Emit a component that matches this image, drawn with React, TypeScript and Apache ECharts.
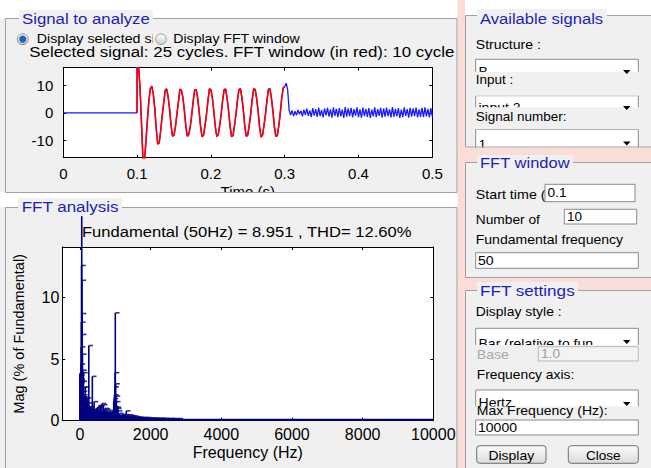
import React, { useEffect, useRef } from "react";
import * as echarts from "echarts";

// ---------- DATA ----------
const timeTicks = [0, 0.1, 0.2, 0.3, 0.4, 0.5];
const signalTicks = [-10, 0, 10];
const freqTicks = [0, 2000, 4000, 6000, 8000, 10000];
const magTicks = [0, 5, 10];

const preTime = [0, 0.0999];
const preSignal = [0, 0];

const windowStart = 0.1;
const windowStep = 0.002;
const windowSignal = [
  17.5, 17.0, 9.0, -4.0, -17.5, -17.5, -10.5, -2.5, 4.5, 9.0,
  9.8, 6.8, 1.5, -6.0, -11.5, -11.0, -6.5, -1.0, 3.5, 8.2,
  8.8, 6.0, 1.5, -4.5, -8.6, -8.2, -5.0, -0.5, 4.0, 8.7,
  8.3, 5.8, 1.0, -4.8, -8.6, -8.0, -5.2, -0.8, 4.2, 8.4,
  8.6, 5.5, 0.8, -5.0, -8.8, -8.2, -4.8, -0.6, 4.5, 8.8,
  8.5, 5.5, 0.5, -5.2, -8.7, -8.0, -4.5, -0.3, 4.8, 8.6,
  8.7, 5.2, 0.6, -5.0, -8.8, -8.3, -4.6, -0.5, 4.6, 8.5,
  8.9, 5.6, 0.8, -5.1, -8.7, -8.1, -4.4, -0.2, 4.9, 8.8,
  8.6, 5.3, 0.5, -5.3, -8.9, -8.2, -4.5, -0.4, 4.7, 8.7,
  8.8, 5.4, 0.7, -5.0, -8.6, -8.4, -4.7, -0.1, 5.5, 9.2,
  9.6,
];

const postStart = 0.302;
const postStep = 0.002;
const postSignal = [
  10.9, 8.5, 1.0, -0.8, 0.9, -1.2, 0.6, -0.9, 1.1, -0.5,
  0.8, -1.3, 1.2, -0.7, 1.5, -1.1, 0.9, -1.6, 1.7, -1.0,
  1.4, -1.5, 1.9, -1.2, 1.0, -1.7, 1.6, -0.9, 1.8, -1.4,
  1.3, -1.8, 2.0, -1.1, 1.5, -1.6, 1.7, -1.3, 1.2, -1.9,
  2.1, -1.4, 1.6, -1.2, 1.8, -1.7, 1.4, -1.0, 2.0, -1.6,
  1.3, -1.8, 1.9, -1.2, 1.5, -1.5, 1.7, -1.9, 1.2, -1.3,
  2.0, -1.6, 1.4, -1.1, 1.8, -1.8, 1.6, -1.4, 1.9, -1.2,
  1.3, -1.7, 2.1, -1.5, 1.5, -1.3, 1.7, -1.9, 1.2, -1.6,
  2.0, -1.1, 1.4, -1.8, 1.8, -1.4, 1.6, -1.2, 1.9, -1.7,
  1.3, -1.5, 1.8, -1.6, 2.0, -1.3, 1.5, -1.7, 1.7, -1.4,
];

const fftFreq = [
  0, 5, 10, 15, 20, 25, 30, 35, 40, 45, 50, 55, 60, 65, 70, 75, 80, 85, 90, 95,
  100, 105, 110, 120, 130, 140, 150, 160, 175, 190, 200, 215, 225, 240, 250, 265, 280, 300, 325, 350,
  370, 400, 430, 460, 500, 540, 580, 620, 660, 700, 740, 780, 820, 860, 900, 940, 955, 965, 975, 985,
  995, 1000, 1010, 1020, 1030, 1045, 1060, 1080, 1120, 1170, 1220, 1270, 1310, 1360, 1420, 1480, 1540, 1620, 1700, 1800,
  1900, 2000, 2100, 2200, 2320, 2450, 2580, 2700, 2800,
];
const fftMag = [
  3.8, 3.9, 3.7, 3.4, 3.1, 3.3, 4.6, 6.0, 8.0, 12.6, 16.6, 11.4, 8.7, 7.0, 5.4, 4.1, 3.2, 2.7, 2.4, 2.1,
  3.9, 1.95, 1.8, 1.6, 1.45, 1.3, 2.75, 1.2, 1.1, 1.0, 1.85, 1.1, 1.45, 1.0, 6.1, 1.0, 0.9, 1.15, 0.9, 3.6,
  0.9, 1.55, 0.8, 1.0, 1.1, 1.25, 1.2, 1.4, 1.3, 1.0, 0.95, 0.85, 0.75, 0.6, 0.55, 0.9, 1.55, 1.8, 2.1, 2.75,
  3.9, 8.76, 3.0, 2.0, 1.55, 1.1, 1.0, 0.8, 0.6, 0.5, 0.48, 0.5, 0.8, 0.47, 0.46, 0.4, 0.38, 0.32, 0.28, 0.27,
  0.26, 0.23, 0.22, 0.21, 0.22, 0.2, 0.19, 0.18, 0.17,
];

const floorFreq = [0, 55, 60, 200, 215, 940, 950, 1090, 1100, 1400, 2000, 2750, 2800, 10000];
const floorMag = [3.85, 3.85, 2.0, 1.9, 0.8, 0.7, 1.3, 1.2, 0.5, 0.4, 0.26, 0.19, 0.15, 0.15];

// ---------- STYLE ----------
const FONT = "Liberation Sans";
const GRAY = "#f0f0f0";
const PINK = "#f9ddd6";
const BORDER = "#a0a0a0";
const TITLE = "#1e1eb8";
const NAVY = "#000080";

let measureCtx: CanvasRenderingContext2D | null = null;
function measure(text: string, size: number): number {
  if (!measureCtx) measureCtx = document.createElement("canvas").getContext("2d");
  if (!measureCtx) return text.length * size * 0.5;
  measureCtx.font = `${size}px "${FONT}"`;
  return measureCtx.measureText(text).width;
}

function txt(text: string, x: number, y: number, size: number, o: any = {}) {
  let sx = o.sx ?? 1.08;
  if (o.w) {
    const m = measure(o.fit ?? text, size);
    if (m > 0) sx = Math.min(1.4, Math.max(0.8, o.w / m));
  }
  const style: any = {
    text, x: 0, y: 0, fontSize: size, fontFamily: FONT,
    fill: o.fill ?? "#000", align: o.align ?? "left", verticalAlign: "middle",
  };
  if (o.width) {
    style.width = o.width / sx;
    style.overflow = "truncate";
    style.ellipsis = "";
  }
  return { type: "text", x, y, z: o.z ?? -10, scaleX: sx, style };
}
function rect(x: number, y: number, w: number, h: number, fill: any, o: any = {}) {
  return {
    type: "rect", z: o.z ?? -10,
    shape: { x, y, width: w, height: h, r: o.r ?? 0 },
    style: { fill, stroke: o.stroke ?? null, lineWidth: o.lw ?? 1 },
  };
}
function frame(x: number, y: number, w: number, h: number, z = -10) {
  return { type: "rect", z, shape: { x, y, width: w, height: h }, style: { fill: null, stroke: BORDER, lineWidth: 1 } };
}
function hline(x1: number, x2: number, y: number, z = -10) {
  return { type: "line", z, shape: { x1, y1: y, x2, y2: y }, style: { stroke: BORDER, lineWidth: 1 } };
}
function arrow(y: number) {
  return { type: "polygon", z: -10, shape: { points: [[623, y], [630.5, y], [626.75, y + 4]] }, style: { fill: "#000" } };
}

function buildGraphic() {
  const g: any[] = [];
  // backgrounds
  g.push(rect(0, 0, 651, 468, "#ffffff"));
  g.push(rect(457.5, 0, 7.5, 468, PINK));
  g.push(rect(0, 18.5, 457.5, 174, GRAY));
  g.push(rect(0, 207, 457.5, 261, GRAY));
  g.push(rect(465, 15, 186, 132.5, GRAY));
  g.push(rect(465, 162, 186, 116, GRAY));
  g.push(rect(465, 290, 186, 178, GRAY));

  // panel 1 contents
  g.push(txt("Selected signal: 25 cycles. FFT window (in red): 10 cycles", 29.3, 51.7, 15, {
    w: 425.7, fit: "Selected signal: 25 cycles. FFT window (in red): 10 cycle", width: 428,
  }));
  g.push(rect(14, 32, 139, 14.3, GRAY));
  g.push(txt("Display selected signal", 36.7, 39, 13, { w: 115, fit: "Display selected s" }));
  g.push(rect(153, 32, 152, 14.3, GRAY));
  g.push(txt("Display FFT window", 173.3, 39, 13, { w: 126.7 }));
  g.push({
    type: "circle", z: -10, shape: { cx: 22.8, cy: 39.2, r: 5.4 },
    style: { fill: new echarts.graphic.LinearGradient(0, 0, 0, 1, [{ offset: 0, color: "#ffffff" }, { offset: 1, color: "#c8c8c8" }]), stroke: "#8a8a8a", lineWidth: 1 },
  });
  g.push({ type: "circle", z: -10, shape: { cx: 22.8, cy: 39.2, r: 3.6 }, style: { fill: "#1b64b8" } });
  g.push({
    type: "circle", z: -10, shape: { cx: 161, cy: 39.2, r: 5.3 },
    style: { fill: new echarts.graphic.LinearGradient(0, 0, 0, 1, [{ offset: 0, color: "#ffffff" }, { offset: 1, color: "#d0d0d0" }]), stroke: "#9a9a9a", lineWidth: 1 },
  });

  // panel 2 contents
  g.push(txt("Fundamental (50Hz) = 8.951 , THD= 12.60%", 246.7, 231.7, 15, { w: 330, align: "center" }));

  // right: Available signals
  const dd = (top: number, text: string, cy: number) => {
    g.push(rect(475.7, top, 162.6, 20, "#ffffff", { stroke: "#8a8a8a" }));
    g.push(txt(text, 478.5, cy, 13, {}));
  };
  dd(59.3, "B", 71.5);
  dd(95.7, "input 2", 107.5);
  dd(129.3, "1", 145);
  g.push(rect(468, 71.7, 183, 24, GRAY));
  g.push(rect(468, 107.3, 183, 22, GRAY));
  g.push(txt("Structure :", 475.7, 44.3, 13, { w: 65.3 }));
  g.push(txt("Input :", 475.7, 80, 13, { w: 37.6 }));
  g.push(txt("Signal number:", 475.7, 116.7, 13, { w: 91 }));
  g.push(arrow(70));
  g.push(arrow(106));
  g.push(arrow(141.5));

  // right: FFT window
  g.push(txt("Start time (s):", 475.7, 194.3, 13, { sx: 1.1 }));
  g.push(rect(545, 184.3, 90, 17.4, "#ffffff", { stroke: "#8a8a8a" }));
  g.push(txt("0.1", 547.5, 193, 13, { w: 19 }));
  g.push(txt("Number of", 475.7, 220, 13, { w: 64.3 }));
  g.push(rect(564.3, 209.3, 72.4, 14.7, "#ffffff", { stroke: "#8a8a8a" }));
  g.push(txt("10", 567, 216.7, 13, { w: 15 }));
  g.push(txt("Fundamental frequency", 475.7, 240, 13, { w: 147.6 }));
  g.push(rect(475.7, 252.7, 162.6, 15.6, "#ffffff", { stroke: "#8a8a8a" }));
  g.push(txt("50", 478, 260.5, 13, { w: 15.6 }));

  // right: FFT settings
  g.push(txt("Display style :", 475.7, 311.7, 13, { w: 86 }));
  dd(328.3, "Bar (relative to fun", 343.5);
  g.push(rect(468, 345, 183, 18, GRAY));
  g.push(txt("Base", 476.7, 355, 13, { w: 32.3, fill: "#a8a8a8" }));
  g.push(rect(538.3, 346.7, 100, 14.3, "#f3f3f3", { stroke: "#b8b8b8" }));
  g.push(txt("1.0", 541, 354, 13, { w: 19, fill: "#a0a0a0" }));
  g.push(txt("Frequency axis:", 476.7, 375, 13, { w: 97.6 }));
  dd(390, "Hertz", 403);
  g.push(rect(468, 406.5, 183, 13, GRAY));
  g.push(txt("Max Frequency (Hz):", 476.7, 411, 13, { w: 131 }));
  g.push(arrow(340));
  g.push(arrow(402));
  g.push(rect(475.7, 420, 162.6, 15, "#ffffff", { stroke: "#8a8a8a" }));
  g.push(txt("10000", 478, 427.7, 13, { w: 39 }));
  const btnFill = () => new echarts.graphic.LinearGradient(0, 0, 0, 1, [{ offset: 0, color: "#fbfbfb" }, { offset: 1, color: "#dadada" }]);
  g.push(rect(476.7, 445.7, 69.3, 17.6, btnFill(), { stroke: "#6f6f6f", r: 3 }));
  g.push(txt("Display", 511.3, 455.5, 13, { w: 45.7, align: "center" }));
  g.push(rect(568.3, 445.7, 70, 17.6, btnFill(), { stroke: "#6f6f6f", r: 3 }));
  g.push(txt("Close", 603.3, 455.5, 13, { w: 34.7, align: "center" }));

  // gaps & borders
  g.push(rect(457.5, 147.5, 193.5, 14.5, PINK));
  g.push(rect(457.5, 278, 193.5, 12, PINK));
  g.push(frame(5.5, 18.5, 451.5, 174));
  g.push(frame(5.5, 207.5, 451.5, 300));
  g.push(frame(465.5, 15.5, 200, 131.5));
  g.push(frame(465.5, 162.5, 200, 115));
  g.push(frame(465.5, 290.5, 200, 200));

  // titles
  g.push(rect(19, 10, 134, 18, GRAY));
  g.push(txt("Signal to analyze", 22, 18.5, 15, { w: 128, fill: TITLE }));
  g.push(rect(477, 9, 130, 18, GRAY));
  g.push(txt("Available signals", 480, 18.3, 15, { w: 123.3, fill: TITLE }));
  g.push(rect(477, 155, 96, 16, GRAY));
  g.push(txt("FFT window", 480, 162.3, 15, { w: 90, fill: TITLE }));
  g.push(rect(477, 282, 101, 17, GRAY));
  g.push(txt("FFT settings", 480, 290, 15, { w: 95, fill: TITLE }));

  // overlay (clips "Time (s)" at the panel border)
  g.push(rect(0, 192.8, 457.5, 14.2, "#ffffff", { z: 50 }));
  g.push(hline(5.5, 457, 192.5, 51));
  g.push(rect(18, 198, 104, 17, GRAY, { z: 51 }));
  g.push(txt("FFT analysis", 21.7, 206.7, 15, { w: 97.3, fill: TITLE, z: 52 }));
  return g;
}

function buildOption() {
  const blue: number[][] = [];
  preTime.forEach((t, i) => blue.push([t, preSignal[i]]));
  const win = windowSignal.map((v, i) => [+(windowStart + i * windowStep).toFixed(4), v]);
  const post = postSignal.map((v, i) => [+(postStart + i * postStep).toFixed(4), v]);
  const blueData = [...blue, ...win, ...post];
  const redData = [[preTime[preTime.length - 1], preSignal[preSignal.length - 1]], ...win];
  const fftData = fftFreq.map((f, i) => [f, fftMag[i]]);
  const floorData = floorFreq.map((f, i) => [f, floorMag[i]]);

  const axLine = { show: true, onZero: false, lineStyle: { color: "#000", width: 1 } };
  const lbl = (size: number, margin: number, custom: number[]) => ({
    fontSize: size, color: "#000", margin, fontFamily: FONT,
    formatter: (v: number) => String(v), customValues: custom,
  });
  const tick = (custom: number[]) => ({
    inside: true, length: 3, lineStyle: { color: "#000" }, customValues: custom,
  });

  return {
    animation: false,
    textStyle: { fontFamily: FONT },
    graphic: { elements: buildGraphic() },
    grid: [
      { left: 63.3, top: 67.7, width: 369, height: 90, show: true, backgroundColor: "#fff", borderWidth: 0, containLabel: false, outerBoundsMode: "none" },
      { left: 62.3, top: 247, width: 371, height: 173.7, show: true, backgroundColor: "#fff", borderWidth: 0, containLabel: false, outerBoundsMode: "none" },
    ],
    xAxis: [
      {
        gridIndex: 0, type: "value", min: 0, max: 0.5, position: "bottom",
        axisLine: axLine, axisTick: tick(timeTicks), axisLabel: lbl(15, 8, timeTicks), splitLine: { show: false },
        name: "Time (s)", nameLocation: "middle", nameGap: 26,
        nameTextStyle: { fontSize: 15, color: "#000", fontFamily: FONT },
      },
      {
        gridIndex: 0, type: "value", min: 0, max: 0.5, position: "top",
        axisLine: axLine, axisTick: tick(timeTicks), axisLabel: { show: false }, splitLine: { show: false },
      },
      {
        gridIndex: 1, type: "value", min: -500, max: 10000, position: "bottom",
        axisLine: axLine, axisTick: tick(freqTicks), axisLabel: lbl(16, 5.5, freqTicks), splitLine: { show: false },
        name: "Frequency (Hz)", nameLocation: "middle", nameGap: 24,
        nameTextStyle: { fontSize: 16, color: "#000", fontFamily: FONT },
      },
      {
        gridIndex: 1, type: "value", min: -500, max: 10000, position: "top",
        axisLine: axLine, axisTick: tick(freqTicks), axisLabel: { show: false }, splitLine: { show: false },
      },
    ],
    yAxis: [
      {
        gridIndex: 0, type: "value", min: -16.5, max: 16.6, position: "left",
        axisLine: axLine, axisTick: tick(signalTicks), axisLabel: lbl(15, 10, signalTicks), splitLine: { show: false },
      },
      {
        gridIndex: 0, type: "value", min: -16.5, max: 16.6, position: "right",
        axisLine: axLine, axisTick: tick(signalTicks), axisLabel: { show: false }, splitLine: { show: false },
      },
      {
        gridIndex: 1, type: "value", min: 0, max: 14.1, position: "left",
        axisLine: axLine, axisTick: tick(magTicks), axisLabel: lbl(16, 3, magTicks), splitLine: { show: false },
        name: "Mag (% of Fundamental)", nameLocation: "middle", nameGap: 36, nameRotate: 90,
        nameTextStyle: { fontSize: 14.5, color: "#000", fontFamily: FONT },
      },
      {
        gridIndex: 1, type: "value", min: 0, max: 14.1, position: "right",
        axisLine: axLine, axisTick: tick(magTicks), axisLabel: { show: false }, splitLine: { show: false },
      },
    ],
    series: [
      {
        type: "line", xAxisIndex: 0, yAxisIndex: 0, data: blueData, symbol: "none", z: 2,
        lineStyle: { color: "#1a1aff", width: 1.3 }, clip: true,
      },
      {
        type: "line", xAxisIndex: 0, yAxisIndex: 0, data: redData, symbol: "none", z: 3,
        lineStyle: { color: "#ff0000", width: 1.6 }, clip: true,
      },
      {
        type: "line", xAxisIndex: 2, yAxisIndex: 2, data: floorData, symbol: "none", z: 2,
        lineStyle: { width: 0, color: NAVY }, areaStyle: { color: NAVY, opacity: 1 },
      },
      {
        type: "bar", xAxisIndex: 2, yAxisIndex: 2, data: fftData, barWidth: 1.6, z: 3,
        itemStyle: { color: NAVY }, clip: false,
      },
      {
        type: "scatter", xAxisIndex: 2, yAxisIndex: 2, data: fftData, symbol: "rect",
        symbolSize: [4, 1.6], symbolOffset: [2.2, 0], z: 3, itemStyle: { color: NAVY }, clip: true,
      },
    ],
  };
}

export default function App() {
  const ref = useRef<HTMLDivElement>(null);
  useEffect(() => {
    if (!ref.current) return;
    const chart = echarts.init(ref.current, undefined, { renderer: "svg", width: 651, height: 468 });
    chart.setOption(buildOption() as any);
    return () => chart.dispose();
  }, []);
  return <div ref={ref} style={{ position: "absolute", left: 0, top: 0, width: 651, height: 468 }} />;
}
